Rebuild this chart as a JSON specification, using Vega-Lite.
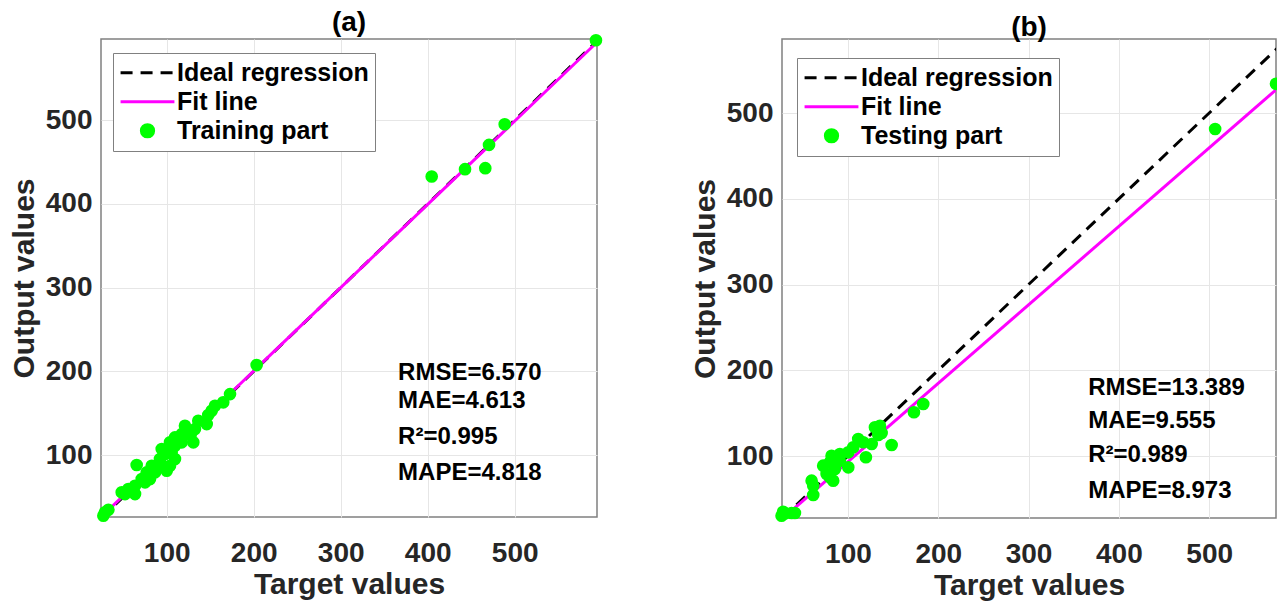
{
  "$schema": "https://vega.github.io/schema/vega-lite/v6.json",
  "background": "white",
  "padding": {"left": 8, "top": 8, "right": 0, "bottom": 0},
  "spacing": 85,
  "bounds": "full",
  "resolve": {"scale": {"color": "independent", "x": "independent", "y": "independent"}, "legend": {"color": "independent"}},
  "config": {
    "font": "Liberation Sans",
    "view": {"stroke": "#808080", "strokeWidth": 1.5},
    "axis": {"labelFont": "Liberation Sans", "labelFontWeight": "bold", "labelFontSize": 28, "labelColor": "#262626", "titleFont": "Liberation Sans", "titleFontWeight": "bold", "titleFontSize": 30, "titleColor": "#262626", "domain": false, "ticks": false, "grid": true, "gridColor": "#e6e6e6", "gridWidth": 1},
    "axisX": {"labelPadding": 22, "titlePadding": 2},
    "axisY": {"labelPadding": 9, "titlePadding": 6},
    "legend": {"orient": "none", "padding": 6, "strokeColor": "#808080", "fillColor": "#ffffff", "labelFont": "Liberation Sans", "labelFontWeight": "bold", "labelFontSize": 25, "labelColor": "#000000", "labelOffset": 1, "symbolOffset": 0, "rowPadding": 1, "clipHeight": 27.5, "symbolSize": 2900, "symbolStrokeWidth": 3, "labelLimit": 400},
    "title": {"font": "Liberation Sans", "fontWeight": "bold", "fontSize": 28, "color": "#000000", "offset": -3}
  },
  "hconcat": [
    {
      "title": {"text": "(a)"},
      "width": 496,
      "height": 478,
      "encoding": {
        "x": {"field": "x", "type": "quantitative", "scale": {"domain": [24.5, 594.6], "nice": false, "zero": false}, "axis": {"title": "Target values", "values": [100, 200, 300, 400, 500]}},
        "y": {"field": "y", "type": "quantitative", "scale": {"domain": [26, 597], "nice": false, "zero": false}, "axis": {"title": "Output values", "values": [100, 200, 300, 400, 500]}}
      },
      "layer": [
        {
          "data": {"values": [
            {"series": "Ideal regression", "x": 24.5, "y": 24.5},
            {"series": "Ideal regression", "x": 594.6, "y": 594.6}
          ]},
          "mark": {"type": "line", "strokeDash": [12, 8], "strokeWidth": 3, "clip": true},
          "encoding": {
            "color": {"field": "series", "type": "nominal", "scale": {"domain": ["Ideal regression", "Fit line", "Training part"], "range": ["#000000", "#ff00ff", "#00ff00"]},
              "legend": {"title": null, "legendX": 12, "legendY": 14, "encode": {"symbols": {"update": {
                "shape": {"signal": "datum.value === 'Training part' ? 'circle' : 'stroke'"},
                "size": {"signal": "datum.value === 'Training part' ? 150 : 2900"},
                "fill": {"signal": "datum.value === 'Training part' ? '#00ff00' : 'transparent'"},
                "stroke": {"signal": "datum.value === 'Ideal regression' ? '#000000' : datum.value === 'Fit line' ? '#ff00ff' : 'transparent'"},
                "strokeDash": {"signal": "datum.value === 'Ideal regression' ? [12, 8] : []"},
                "strokeWidth": {"value": 3},
                "opacity": {"value": 1}
              }}}}}
          }
        },
        {
          "data": {"values": [
            {"series": "Fit line", "x": 24.5, "y": 25.9},
            {"series": "Fit line", "x": 594.6, "y": 593.1}
          ]},
          "mark": {"type": "line", "strokeWidth": 3, "clip": true},
          "encoding": {
            "color": {"field": "series", "type": "nominal", "scale": {"domain": ["Ideal regression", "Fit line", "Training part"], "range": ["#000000", "#ff00ff", "#00ff00"]}}
          }
        },
        {
          "data": {"values": [
            {"series": "Training part", "x": 27.2, "y": 27.5}, {"series": "Training part", "x": 29.1, "y": 31.6}, {"series": "Training part", "x": 33, "y": 34.7},
            {"series": "Training part", "x": 48.3, "y": 55.5}, {"series": "Training part", "x": 52.1, "y": 53.4}, {"series": "Training part", "x": 55.9, "y": 59.4},
            {"series": "Training part", "x": 59.8, "y": 57.4}, {"series": "Training part", "x": 63.6, "y": 63.3}, {"series": "Training part", "x": 63.6, "y": 53.4},
            {"series": "Training part", "x": 65.5, "y": 88.1}, {"series": "Training part", "x": 71.3, "y": 71.3}, {"series": "Training part", "x": 75.1, "y": 67.4},
            {"series": "Training part", "x": 77, "y": 79.3}, {"series": "Training part", "x": 80.8, "y": 71.3}, {"series": "Training part", "x": 82.8, "y": 87.2},
            {"series": "Training part", "x": 86.6, "y": 79.3}, {"series": "Training part", "x": 88.5, "y": 87.2}, {"series": "Training part", "x": 92.3, "y": 95.2},
            {"series": "Training part", "x": 94.3, "y": 87.2}, {"series": "Training part", "x": 94.3, "y": 107.2}, {"series": "Training part", "x": 98.1, "y": 101.2},
            {"series": "Training part", "x": 100, "y": 81.3}, {"series": "Training part", "x": 103.8, "y": 87.2}, {"series": "Training part", "x": 103.8, "y": 115.2},
            {"series": "Training part", "x": 105.7, "y": 103.2}, {"series": "Training part", "x": 109.5, "y": 111.1}, {"series": "Training part", "x": 109.5, "y": 121.1},
            {"series": "Training part", "x": 109.5, "y": 95.2}, {"series": "Training part", "x": 117.2, "y": 125}, {"series": "Training part", "x": 117.2, "y": 115.2},
            {"series": "Training part", "x": 121, "y": 135}, {"series": "Training part", "x": 124.8, "y": 129}, {"series": "Training part", "x": 127.6, "y": 124.3},
            {"series": "Training part", "x": 130.6, "y": 115.2}, {"series": "Training part", "x": 132.5, "y": 131}, {"series": "Training part", "x": 136.3, "y": 141},
            {"series": "Training part", "x": 146, "y": 137}, {"series": "Training part", "x": 147.8, "y": 147.8}, {"series": "Training part", "x": 151.7, "y": 152.9},
            {"series": "Training part", "x": 155.5, "y": 158.9}, {"series": "Training part", "x": 165, "y": 163}, {"series": "Training part", "x": 172.8, "y": 172.8},
            {"series": "Training part", "x": 203.4, "y": 207.5}, {"series": "Training part", "x": 404.6, "y": 432.8}, {"series": "Training part", "x": 442.9, "y": 441.5},
            {"series": "Training part", "x": 466.2, "y": 442.7}, {"series": "Training part", "x": 470.5, "y": 470.5}, {"series": "Training part", "x": 488.5, "y": 495.2},
            {"series": "Training part", "x": 593.4, "y": 595.5}
          ]},
          "mark": {"type": "point", "filled": true, "size": 160, "opacity": 1, "strokeWidth": 0},
          "encoding": {
            "color": {"field": "series", "type": "nominal", "scale": {"domain": ["Ideal regression", "Fit line", "Training part"], "range": ["#000000", "#ff00ff", "#00ff00"]}}
          }
        },
        {
          "data": {"values": [
            {"label": "RMSE=6.570", "x": 366, "y": 198},
            {"label": "MAE=4.613", "x": 366, "y": 164.5},
            {"label": "R²=0.995", "x": 366, "y": 121.5},
            {"label": "MAPE=4.818", "x": 366, "y": 78.5}
          ]},
          "mark": {"type": "text", "align": "left", "baseline": "middle", "font": "Liberation Sans", "fontWeight": "bold", "fontSize": 24, "color": "#000000"},
          "encoding": {"text": {"field": "label", "type": "nominal"}}
        }
      ]
    },
    {
      "title": {"text": "(b)"},
      "width": 494,
      "height": 479,
      "encoding": {
        "x": {"field": "x", "type": "quantitative", "scale": {"domain": [27, 574], "nice": false, "zero": false}, "axis": {"title": "Target values", "values": [100, 200, 300, 400, 500]}},
        "y": {"field": "y", "type": "quantitative", "scale": {"domain": [27.7, 586.3], "nice": false, "zero": false}, "axis": {"title": "Output values", "values": [100, 200, 300, 400, 500]}}
      },
      "layer": [
        {
          "data": {"values": [
            {"series": "Ideal regression", "x": 27, "y": 27},
            {"series": "Ideal regression", "x": 579.6, "y": 579.6}
          ]},
          "mark": {"type": "line", "strokeDash": [12, 8], "strokeWidth": 3, "clip": true},
          "encoding": {
            "color": {"field": "series", "type": "nominal", "scale": {"domain": ["Ideal regression", "Fit line", "Testing part"], "range": ["#000000", "#ff00ff", "#00ff00"]},
              "legend": {"title": null, "legendX": 15, "legendY": 19, "encode": {"symbols": {"update": {
                "shape": {"signal": "datum.value === 'Testing part' ? 'circle' : 'stroke'"},
                "size": {"signal": "datum.value === 'Testing part' ? 150 : 2900"},
                "fill": {"signal": "datum.value === 'Testing part' ? '#00ff00' : 'transparent'"},
                "stroke": {"signal": "datum.value === 'Ideal regression' ? '#000000' : datum.value === 'Fit line' ? '#ff00ff' : 'transparent'"},
                "strokeDash": {"signal": "datum.value === 'Ideal regression' ? [12, 8] : []"},
                "strokeWidth": {"value": 3},
                "opacity": {"value": 1}
              }}}}}
          }
        },
        {
          "data": {"values": [
            {"series": "Fit line", "x": 28.5, "y": 27.9},
            {"series": "Fit line", "x": 574, "y": 527}
          ]},
          "mark": {"type": "line", "strokeWidth": 3, "clip": true},
          "encoding": {
            "color": {"field": "series", "type": "nominal", "scale": {"domain": ["Ideal regression", "Fit line", "Testing part"], "range": ["#000000", "#ff00ff", "#00ff00"]}}
          }
        },
        {
          "data": {"values": [
            {"series": "Testing part", "x": 26.5, "y": 30.4}, {"series": "Testing part", "x": 28.3, "y": 35}, {"series": "Testing part", "x": 30, "y": 32.8},
            {"series": "Testing part", "x": 37.6, "y": 33.5}, {"series": "Testing part", "x": 41.3, "y": 33.5}, {"series": "Testing part", "x": 59.8, "y": 71.2},
            {"series": "Testing part", "x": 61.6, "y": 65.4}, {"series": "Testing part", "x": 61.6, "y": 54.5}, {"series": "Testing part", "x": 72.6, "y": 88.7},
            {"series": "Testing part", "x": 76.4, "y": 79}, {"series": "Testing part", "x": 80.1, "y": 75.2}, {"series": "Testing part", "x": 83.7, "y": 71.2},
            {"series": "Testing part", "x": 80.1, "y": 92.6}, {"series": "Testing part", "x": 81.9, "y": 100.3}, {"series": "Testing part", "x": 85.6, "y": 84.8},
            {"series": "Testing part", "x": 91.1, "y": 102.3}, {"series": "Testing part", "x": 91.1, "y": 94.5}, {"series": "Testing part", "x": 100.4, "y": 104.3},
            {"series": "Testing part", "x": 100.4, "y": 86.8}, {"series": "Testing part", "x": 105.9, "y": 110.1}, {"series": "Testing part", "x": 111.4, "y": 119.8},
            {"series": "Testing part", "x": 117, "y": 116}, {"series": "Testing part", "x": 119.9, "y": 98.5}, {"series": "Testing part", "x": 126.3, "y": 114},
            {"series": "Testing part", "x": 129.9, "y": 133.5}, {"series": "Testing part", "x": 133.6, "y": 124.5}, {"series": "Testing part", "x": 135.5, "y": 135.3},
            {"series": "Testing part", "x": 137.3, "y": 126.8}, {"series": "Testing part", "x": 148.4, "y": 112.8}, {"series": "Testing part", "x": 173.1, "y": 151},
            {"series": "Testing part", "x": 183.4, "y": 160.6}, {"series": "Testing part", "x": 506.6, "y": 481.3}, {"series": "Testing part", "x": 574, "y": 534}
          ]},
          "mark": {"type": "point", "filled": true, "size": 160, "opacity": 1, "strokeWidth": 0},
          "encoding": {
            "color": {"field": "series", "type": "nominal", "scale": {"domain": ["Ideal regression", "Fit line", "Testing part"], "range": ["#000000", "#ff00ff", "#00ff00"]}}
          }
        },
        {
          "data": {"values": [
            {"label": "RMSE=13.389", "x": 366, "y": 179.3},
            {"label": "MAE=9.555", "x": 366, "y": 140.8},
            {"label": "R²=0.989", "x": 366, "y": 101.2},
            {"label": "MAPE=8.973", "x": 366, "y": 59.2}
          ]},
          "mark": {"type": "text", "align": "left", "baseline": "middle", "font": "Liberation Sans", "fontWeight": "bold", "fontSize": 24, "color": "#000000"},
          "encoding": {"text": {"field": "label", "type": "nominal"}}
        }
      ]
    }
  ]
}
